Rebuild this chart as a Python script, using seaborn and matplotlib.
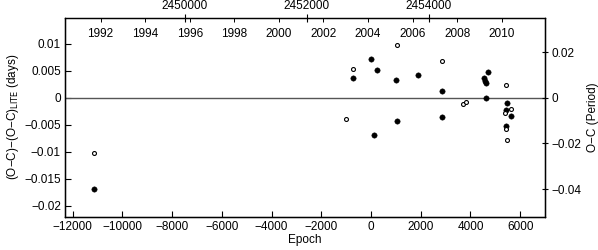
import matplotlib
matplotlib.use("Agg")
import matplotlib.pyplot as plt
import numpy as np
import pandas as pd
import seaborn as sns
from matplotlib.ticker import FuncFormatter

# filled points: (epoch, residual in days)
filled_epoch = [-11159, -736, 0, 229, 1018, 1891, 2869, 4688, 4560, 4588, 4616, 4616,
                5473, 5445, 5622, 5433, 109, 1046, 2869]
filled_resid = [-0.0169, 0.00363, 0.0072, 0.00517, 0.00327, 0.00413, 0.00129, 0.0047,
                0.00358, 0.00314, 0.00266, -0.00011, -0.00092, -0.00227, -0.00338,
                -0.00517, -0.00683, -0.00421, -0.00352]
# open points
open_epoch = [-11159, -712, -1018, 1034, 2869, 3714, 3811, 5433, 5622, 5380, 5433, 5473]
open_resid = [-0.01026, 0.00524, -0.00393, 0.00985, 0.00683, -0.00107, -0.00074,
              0.00234, -0.00208, -0.00288, -0.00583, -0.0078]

left_ticks = [-0.02, -0.015, -0.01, -0.005, 0, 0.005, 0.01]
right_ticks = [-0.04, -0.02, 0, 0.02]
epoch_ticks = [-12000, -10000, -8000, -6000, -4000, -2000, 0, 2000, 4000, 6000]
jd_ticks = [2450000, 2452000, 2454000]
years = [1992, 1994, 1996, 1998, 2000, 2002, 2004, 2006, 2008, 2010]

PERIOD = 0.40737
T0 = 2453054.0
SCALE = 0.4223  # days per period unit on right axis
XLIM = (-12310, 7000)
YLIM = (-0.022, 0.0148)

sns.set_style("ticks", {"axes.edgecolor": "black", "text.color": "black",
                        "axes.labelcolor": "black", "xtick.color": "black",
                        "ytick.color": "black"})
plt.rcParams["font.family"] = ["Liberation Sans", "DejaVu Sans"]
plt.rcParams["font.size"] = 8.5


def fmt(v, _pos=None):
    return ("%g" % v).replace("-", "\u2212")


def epoch_from_jd(jd):
    return (np.asarray(jd, dtype=float) - T0) / PERIOD


fig = plt.figure(figsize=(5.98, 2.5), dpi=100)
ax = fig.add_axes([0.1087, 0.1332, 0.8027, 0.7958])

filled = pd.DataFrame({"epoch": filled_epoch, "resid": filled_resid})
opened = pd.DataFrame({"epoch": open_epoch, "resid": open_resid})

ax.axhline(0, color="#555555", lw=1.0, zorder=1)
sns.scatterplot(data=filled, x="epoch", y="resid", ax=ax, color="black", s=15,
                edgecolor="black", linewidth=0.3, zorder=3, legend=False)
sns.scatterplot(data=opened, x="epoch", y="resid", ax=ax, facecolor="white", s=8,
                edgecolor="black", linewidth=0.8, zorder=3, legend=False)

ax.set_xlim(*XLIM)
ax.set_ylim(*YLIM)
ax.set_xticks(epoch_ticks)
ax.set_yticks(left_ticks)
ax.xaxis.set_major_formatter(FuncFormatter(fmt))
ax.yaxis.set_major_formatter(FuncFormatter(fmt))
ax.tick_params(direction="in", length=4, width=0.8, pad=3)
ax.set_xlabel("Epoch", labelpad=1)
ax.set_ylabel("(O\u2212C)\u2212(O\u2212C)$_{\\rm LITE}$ (days)", labelpad=2)
for sp in ax.spines.values():
    sp.set_linewidth(0.9)

# right axis: O-C in period units
axr = ax.twinx()
axr.set_ylim(YLIM[0] / SCALE, YLIM[1] / SCALE)
axr.set_yticks(right_ticks)
axr.yaxis.set_major_formatter(FuncFormatter(fmt))
axr.tick_params(direction="inout", length=5, width=0.8, pad=2)
axr.set_ylabel("O\u2212C (Period)", labelpad=4)

# top axis: JD
axt = ax.twiny()
axt.set_xlim(*XLIM)
axt.set_xticks(epoch_from_jd(jd_ticks))
axt.set_xticklabels([str(j) for j in jd_ticks])
axt.tick_params(direction="inout", length=6, width=0.8, pad=1)

# years, drawn inside the frame
axy = ax.twiny()
axy.set_xlim(*XLIM)
year_jd = [2451544.5 + (y - 2000) * 365.25 for y in years]
axy.set_xticks(epoch_from_jd(year_jd))
axy.set_xticklabels([str(y) for y in years])
axy.tick_params(direction="in", length=3, width=0.7, pad=-16)
axy.spines["top"].set_visible(False)

fig.savefig("out.png", dpi=100)
